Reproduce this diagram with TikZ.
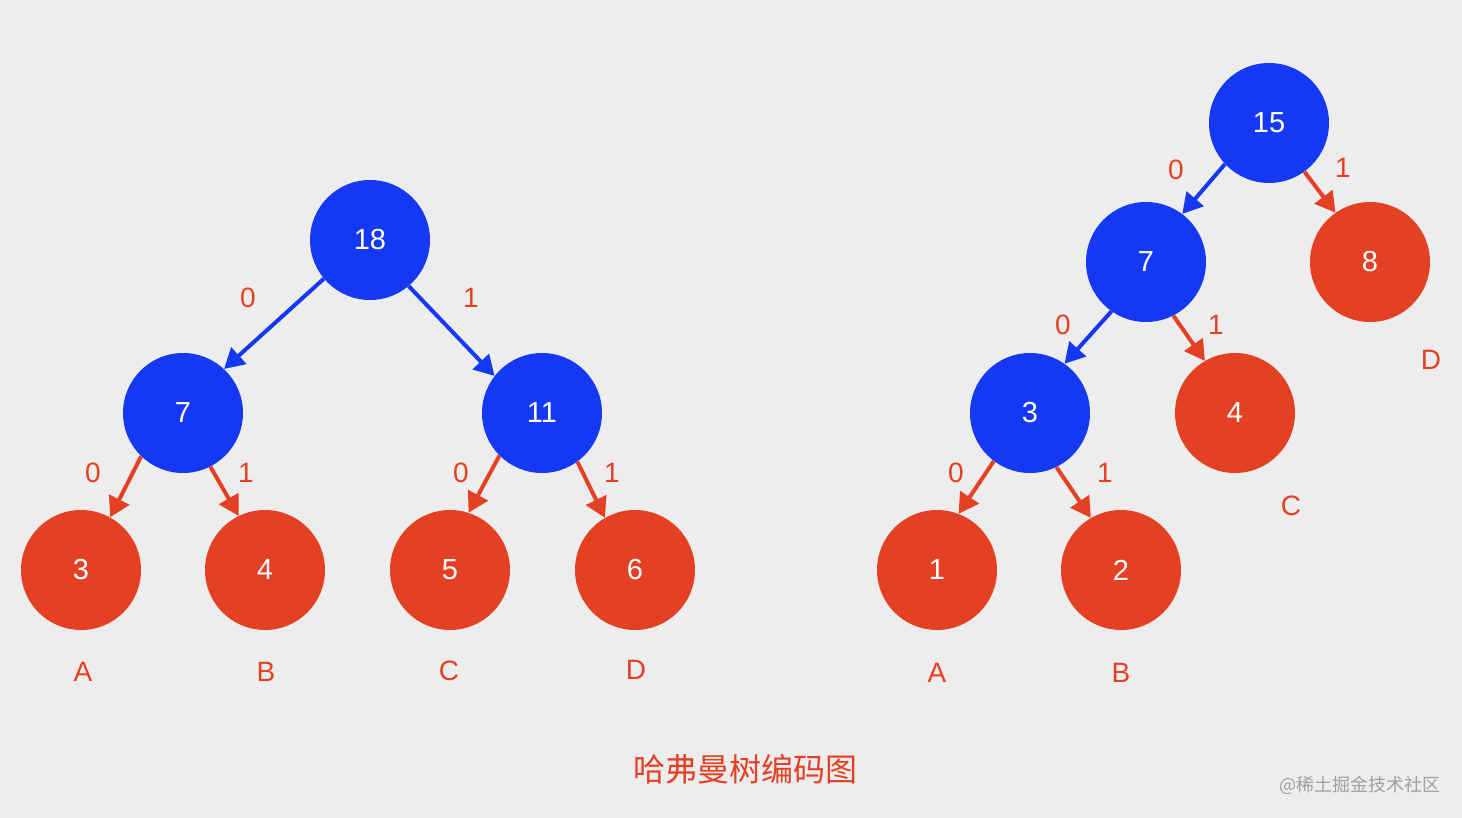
\documentclass[tikz,border=0pt]{standalone}
\usepackage{fontspec}
\setmainfont{Liberation Sans}
\newfontfamily\cjk{Noto Sans CJK SC}
\usetikzlibrary{arrows.meta}

\definecolor{hfblue}{HTML}{1539F3}
\definecolor{hfred}{HTML}{E44024}
\definecolor{hfbg}{HTML}{EDEDED}
\definecolor{hfgrey}{HTML}{A0A0A0}

\tikzset{
    inner/.style={circle, fill=hfblue, minimum size=120pt, inner sep=0pt,
        text=white, font=\fontsize{29}{29}\selectfont},
    leaf/.style={inner, fill=hfred},
    bit/.style={text=hfred, font=\fontsize{28}{28}\selectfont},
    letter/.style={text=hfred, font=\fontsize{28}{28}\selectfont},
    edgeblue/.style={-{Triangle[length=20pt,width=22pt]}, line width=4pt, hfblue},
    edgered/.style={edgeblue, hfred},
}

\begin{document}
\begin{tikzpicture}[x=1pt, y=-1pt]
    % background
    \fill[hfbg] (0,0) rectangle (1462,818);
    \useasboundingbox (0,0) rectangle (1462,818);

    % ---------------- Left tree ----------------
    \node[inner] (l18) at (370,240) {18};
    \node[inner] (l7)  at (183,413) {7};
    \node[inner] (l11) at (542,413) {11};
    \node[leaf]  (l3)  at (81,570)  {3};
    \node[leaf]  (l4)  at (265,570) {4};
    \node[leaf]  (l5)  at (450,570) {5};
    \node[leaf]  (l6)  at (635,570) {6};

    \draw[edgeblue] (l18.220) -- (l7.47);
    \draw[edgeblue] (l18.310) -- (l11.142);
    \draw[edgered] (l7.226) -- (l3.61);
    \draw[edgered] (l7.297) -- (l4.116);
    \draw[edgered] (l11.225) -- (l5.72);
    \draw[edgered] (l11.306) -- (l6.120);

    \node[bit] (lb1) at (248,298) {0};
    \node[bit] (lb2) at (471,298) {1};
    \node[bit] (lb3) at (93,473)  {0};
    \node[bit] (lb4) at (246,473) {1};
    \node[bit] (lb5) at (461,473) {0};
    \node[bit] (lb6) at (612,473) {1};

    \node[letter] (la) at (83,672)  {A};
    \node[letter] (lbb) at (266,672) {B};
    \node[letter] (lc) at (449,671) {C};
    \node[letter] (ld) at (636,670) {D};

    % ---------------- Right tree ----------------
    \node[inner] (r15) at (1269,123) {15};
    \node[inner] (r7)  at (1146,262) {7};
    \node[leaf]  (r8)  at (1370,262) {8};
    \node[inner] (r3)  at (1030,413) {3};
    \node[leaf]  (r4)  at (1235,413) {4};
    \node[leaf]  (r1)  at (937,570)  {1};
    \node[leaf]  (r2)  at (1121,570) {2};

    \draw[edgeblue] (r15.223) -- (r7.53);
    \draw[edgered] (r15.306) -- (r8.125);
    \draw[edgeblue] (r7.235) -- (r3.55);
    \draw[edgered] (r7.297) -- (r4.120);
    \draw[edgered] (r3.233) -- (r1.69);
    \draw[edgered] (r3.296) -- (r2.120);

    \node[bit] (rb1) at (1176,170) {0};
    \node[bit] (rb2) at (1343,168) {1};
    \node[bit] (rb3) at (1063,325) {0};
    \node[bit] (rb4) at (1216,325) {1};
    \node[bit] (rb5) at (956,473)  {0};
    \node[bit] (rb6) at (1105,473) {1};

    \node[letter] (rd) at (1431,360) {D};
    \node[letter] (rc) at (1291,506) {C};
    \node[letter] (ra) at (937,673)  {A};
    \node[letter] (rbb) at (1121,673) {B};

    % captions
    \node[text=hfred, font=\cjk\fontsize{32}{32}\selectfont] (title) at (745,769) {哈弗曼树编码图};
    \node[text=hfgrey, font=\cjk\fontsize{18}{18}\selectfont] (mark) at (1360,785) {@稀土掘金技术社区};
\end{tikzpicture}
\end{document}
